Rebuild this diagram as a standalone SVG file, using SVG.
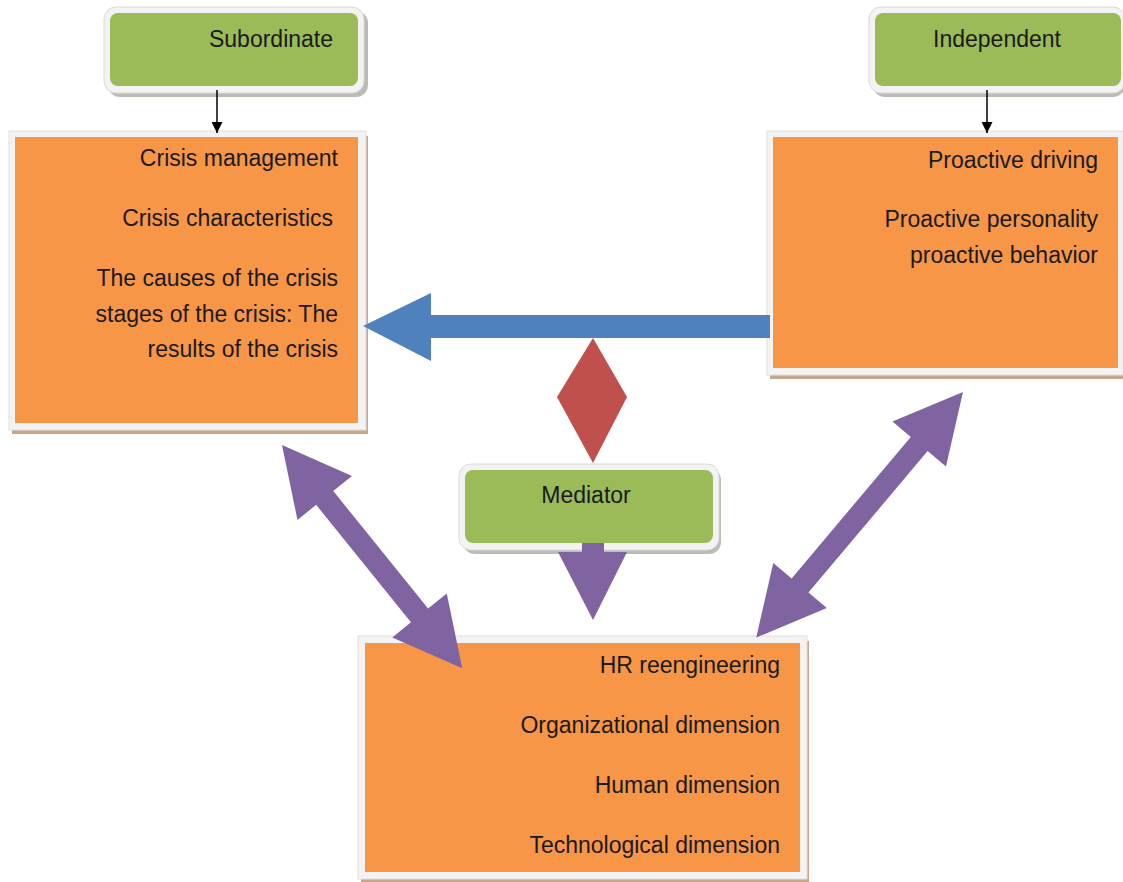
<svg xmlns="http://www.w3.org/2000/svg" width="1123" height="882" viewBox="0 0 1123 882">
<style>
.t{font-family:"Liberation Sans",Arial,sans-serif;font-size:23px;fill:#1a1a1a}
.r{text-anchor:end}
.m{text-anchor:middle}
.gshadow{fill:#b9bdb2}
.grim{fill:#f3f3f3;stroke:#dadada;stroke-width:1}
.green{fill:#9bbb59}
.oshadow{fill:#caa688}
.orim{fill:#f3f3f3;stroke:#e0e0e0;stroke-width:1}
.orange{fill:#f79646}
.purple{fill:#8064a2}
</style>
<defs>
<marker id="ah" markerWidth="11" markerHeight="11" refX="10" refY="5" orient="auto" markerUnits="userSpaceOnUse" viewBox="0 0 10 10">
<path d="M0,0 L10,5 L0,10 Z" fill="#000"/>
</marker>
</defs>
<rect width="1123" height="882" fill="#fff"/>

<g id="subordinate">
<rect class="gshadow" x="108" y="11" width="260" height="86" rx="12"/>
<rect class="grim" x="104" y="7" width="260" height="86" rx="12"/>
<rect class="green" x="110" y="13" width="248" height="73" rx="8"/>
<text class="t m" x="271" y="47">Subordinate</text>
</g>

<g id="independent">
<rect class="gshadow" x="873" y="11" width="252" height="86" rx="12"/>
<rect class="grim" x="869" y="7" width="256" height="86" rx="12"/>
<rect class="green" x="875" y="13" width="246" height="73" rx="8"/>
<text class="t m" x="997" y="47">Independent</text>
</g>

<g id="crisis">
<rect class="oshadow" x="12" y="136" width="356" height="298"/>
<rect class="orim" x="9" y="131" width="357" height="299"/>
<rect class="orange" x="15" y="137" width="343" height="286"/>
<text class="t r" x="338" y="166">Crisis management</text>
<text class="t r" x="333" y="226">Crisis characteristics</text>
<text class="t r" x="338" y="286">The causes of the crisis</text>
<text class="t r" x="338" y="322">stages of the crisis: The</text>
<text class="t r" x="338" y="357">results of the crisis</text>
</g>

<g id="proactive">
<rect class="oshadow" x="770" y="136" width="353" height="243"/>
<rect class="orim" x="767" y="131" width="356" height="244"/>
<rect class="orange" x="773" y="137" width="345" height="231"/>
<text class="t r" x="1098" y="168">Proactive driving</text>
<text class="t r" x="1098" y="227">Proactive personality</text>
<text class="t r" x="1098" y="263">proactive behavior</text>
</g>

<g id="hr">
<rect class="oshadow" x="361" y="641" width="448" height="241"/>
<rect class="orim" x="358" y="636" width="449" height="243"/>
<rect class="orange" x="365" y="643" width="435" height="229"/>
<text class="t r" x="780" y="673">HR reengineering</text>
<text class="t r" x="780" y="733">Organizational dimension</text>
<text class="t r" x="780" y="793">Human dimension</text>
<text class="t r" x="780" y="853">Technological dimension</text>
</g>

<g id="mediator">
<rect class="gshadow" x="463" y="468" width="258" height="86" rx="12"/>
<rect class="grim" x="459" y="464" width="260" height="86" rx="12"/>
<rect class="green" x="465" y="470" width="248" height="73" rx="8"/>
<text class="t m" x="586" y="503">Mediator</text>
</g>

<g id="connectors">
<line x1="217" y1="90" x2="217" y2="133" stroke="#000" stroke-width="1.5" marker-end="url(#ah)"/>
<line x1="987" y1="90" x2="987" y2="133" stroke="#000" stroke-width="1.5" marker-end="url(#ah)"/>
<polygon fill="#4f81bd" points="770,315 431,315 431,293 363,326 431,361 431,338 770,338"/>
<polygon fill="#c0504d" points="593,338 627,397 593,463 557,397"/>
<polygon class="purple" points="582,543 604,543 604,552 627,552 593,620 558,552 582,552"/>
<polygon class="purple" transform="translate(282,445) rotate(51.1)" points="0,0 68,-35 68,-11 219,-11 219,-35 287,0 219,35 219,11 68,11 68,35"/>
<polygon class="purple" transform="translate(963,392) rotate(130.1)" points="0,0 68,-35 68,-11 253,-11 253,-35 321,0 253,35 253,11 68,11 68,35"/>
</g>
</svg>
